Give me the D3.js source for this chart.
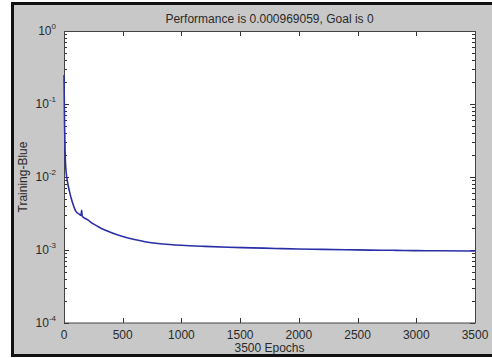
<!DOCTYPE html>
<html>
<head>
<meta charset="utf-8">
<script src="https://cdn.jsdelivr.net/npm/d3@7"></script>
<style>
body { margin: 0; background: #fff; }
text { font-family: "Liberation Sans", Arial, sans-serif; fill: #2a2a2a; }
</style>
</head>
<body>
<div id="chart"></div>
<script>
var svgWidth = 492;
var svgHeight = 358;

var margin = { top: 31, bottom: 35, left: 64, right: 17 };
var width = svgWidth - margin.left - margin.right;
var height = svgHeight - margin.top - margin.bottom;

// training performance
var epochs = [0, 5, 10, 20, 30, 45, 60, 80, 100, 130, 145, 150, 155, 200, 250, 300, 400, 500,
    600, 700, 800, 900, 1000, 1200, 1400, 1600, 1800, 2000, 2200, 2400, 2600, 2800, 3000, 3200, 3500];
var perf = [0.25, 0.05, 0.02, 0.011, 0.0085, 0.0065, 0.0052, 0.0041, 0.0034, 0.0031, 0.0030, 0.0035, 0.0029,
    0.0026, 0.00228, 0.00205, 0.00174, 0.00153, 0.00139, 0.00129, 0.00123, 0.00119, 0.00116, 0.00112, 0.00109,
    0.00107, 0.00105, 0.00103, 0.00102, 0.00101, 0.000995, 0.00099, 0.00098, 0.000975, 0.000969];
var xTicks = [0, 500, 1000, 1500, 2000, 2500, 3000, 3500];
var yExps = [0, -1, -2, -3, -4];

var svg = d3.select("#chart")
    .append("svg")
    .attr("width", svgWidth)
    .attr("height", svgHeight);

// gray figure background with the black frame
svg.append("rect")
    .attr("x", 12.5).attr("y", 3.5)
    .attr("width", 495).attr("height", 352)
    .attr("fill", "#c8c8c8")
    .attr("stroke", "#111")
    .attr("stroke-width", 3);

var chartGroup = svg.append("g")
    .attr("transform", `translate(${margin.left}, ${margin.top})`);

chartGroup.append("rect")
    .attr("width", width)
    .attr("height", height)
    .attr("fill", "#fff");

var x = d3.scaleLinear().domain([0, 3500]).range([0, width]);
var y = d3.scaleLog().domain([1e-4, 1]).range([height, 0]);

// minor + major log ticks on left and right
var logTicks = y.ticks();
chartGroup.selectAll(".ytk")
    .data(logTicks)
    .enter()
    .append("path")
    .attr("d", function (d) {
        var len = (Math.abs(Math.log10(d) - Math.round(Math.log10(d))) < 1e-6) ? 5 : 3;
        var yy = Math.round(y(d)) + 0.5;
        return `M0,${yy}h${len}M${width},${yy}h${-len}`;
    })
    .attr("stroke", "#333");

chartGroup.selectAll(".xtk")
    .data(xTicks)
    .enter()
    .append("path")
    .attr("d", function (d) {
        var xx = Math.round(x(d)) + 0.5;
        return `M${xx},${height}v-5M${xx},0v5`;
    })
    .attr("stroke", "#333");

chartGroup.append("rect")
    .attr("x", 0.5).attr("y", 0.5)
    .attr("width", width).attr("height", height - 0.5)
    .attr("fill", "none")
    .attr("stroke", "#444");

chartGroup.selectAll(".xlab")
    .data(xTicks)
    .enter()
    .append("text")
    .attr("x", d => x(d))
    .attr("y", height + 16)
    .attr("text-anchor", "middle")
    .attr("font-size", "12px")
    .text(d => d);

var yLab = chartGroup.selectAll(".ylab")
    .data(yExps)
    .enter()
    .append("text")
    .attr("x", -8)
    .attr("y", d => y(Math.pow(10, d)) + 4)
    .attr("text-anchor", "end")
    .attr("font-size", "12px");
yLab.append("tspan").text("10");
yLab.append("tspan")
    .attr("dy", -6)
    .attr("font-size", "8px")
    .text(d => d);

var line = d3.line()
    .curve(d3.curveMonotoneX)
    .x(function (d, i) { return x(epochs[i]); })
    .y(function (d) { return y(d); });

chartGroup.append("path")
    .datum(perf)
    .attr("d", line)
    .attr("fill", "none")
    .attr("stroke", "#2a2fa8")
    .attr("stroke-width", 1.6);

chartGroup.append("text")
    .attr("x", width / 2)
    .attr("y", -8)
    .attr("text-anchor", "middle")
    .attr("font-size", "12px")
    .text("Performance is 0.000969059, Goal is 0");

chartGroup.append("text")
    .attr("x", width / 2)
    .attr("y", height + 29)
    .attr("text-anchor", "middle")
    .attr("font-size", "12px")
    .text("3500 Epochs");

chartGroup.append("text")
    .attr("transform", "rotate(-90)")
    .attr("x", 0 - height / 2)
    .attr("y", -37)
    .attr("text-anchor", "middle")
    .attr("font-size", "12px")
    .text("Training-Blue");
</script>
</body>
</html>
